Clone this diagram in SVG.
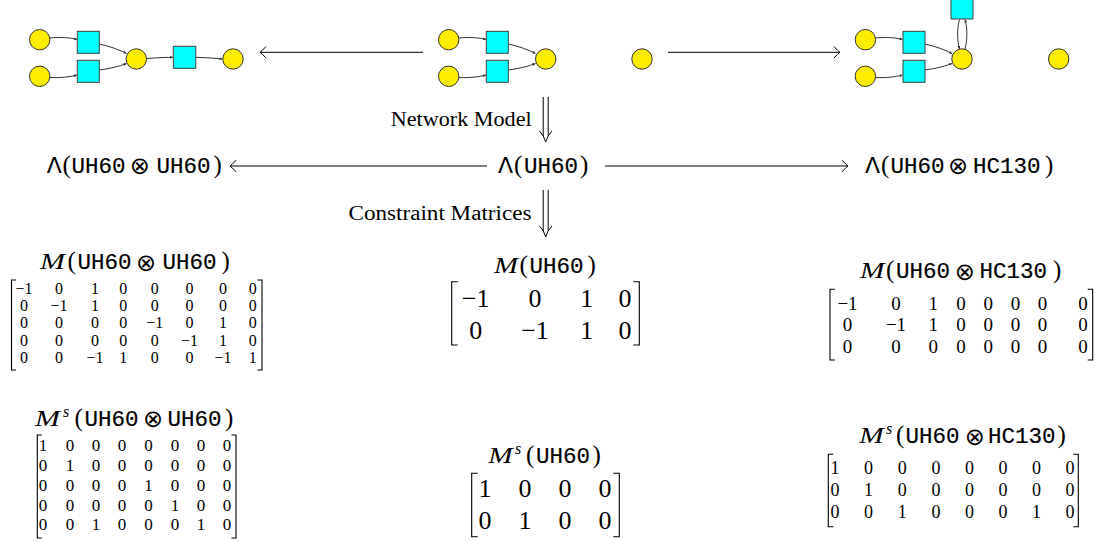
<svg xmlns="http://www.w3.org/2000/svg" width="1103" height="542" viewBox="0 0 1103 542">
<defs>
<style>
.c{fill:#FFED00;stroke:#333;stroke-width:1}
.sq{fill:#00FFFF;stroke:#404040;stroke-width:1}
.e{fill:none;stroke:#333;stroke-width:1;marker-end:url(#ah)}
.ar{fill:none;stroke:#000;stroke-width:1}
.rm{font-family:"Liberation Serif",serif;fill:#000}
.tt{font-family:"Liberation Mono",monospace;font-size:22.5px;fill:#000;stroke:#000;stroke-width:0.2}
.lam{font-family:"DejaVu Sans",sans-serif;font-size:22px}
.par{font-family:"Liberation Serif",serif;font-size:25px}
.ot{font-family:"DejaVu Sans",sans-serif;font-size:24px}
.mm{font-family:"Liberation Serif",serif;font-style:italic;font-size:24px}
.sup{font-family:"Liberation Serif",serif;font-style:italic;font-size:16px}
.br{fill:none;stroke:#000;stroke-width:1.1}
.m{font-family:"Liberation Serif",serif;text-anchor:middle;fill:#000}
</style>
<marker id="ah" viewBox="0 0 6 6" refX="6" refY="3" markerWidth="3" markerHeight="3" orient="auto" markerUnits="userSpaceOnUse">
<path d="M0,0 L6,3 L0,6 z" fill="#333"/>
</marker>
</defs>

<g id="connectors">
<line class="ar" x1="261" y1="52.3" x2="423" y2="52.3"/>
<path class="ar" d="M266,46.5 Q262,51 260,52.3 Q262,53.6 266,58"/>
<line class="ar" x1="668" y1="52.3" x2="839" y2="52.3"/>
<path class="ar" d="M834,46.5 Q838,51 840,52.3 Q838,53.6 834,58"/>
<line class="ar" x1="231" y1="166" x2="487" y2="166"/>
<path class="ar" d="M236,160.2 Q232,164.7 230,166 Q232,167.3 236,171.8"/>
<line class="ar" x1="605" y1="166" x2="847" y2="166"/>
<path class="ar" d="M842,160.2 Q846,164.7 848,166 Q846,167.3 842,171.8"/>
<line class="ar" x1="543.2" y1="97" x2="543.2" y2="136"/>
<line class="ar" x1="548.2" y1="97" x2="548.2" y2="136"/>
<path class="ar" d="M539.5,131 Q544,135.5 545.7,142 Q547.4,135.5 552,131"/>
<line class="ar" x1="543.2" y1="190" x2="543.2" y2="231"/>
<line class="ar" x1="548.2" y1="190" x2="548.2" y2="231"/>
<path class="ar" d="M539.5,226 Q544,230.5 545.7,237 Q547.4,230.5 552,226"/>
<text class="rm" x="390.7" y="125.5" font-size="20" textLength="141" lengthAdjust="spacingAndGlyphs">Network Model</text>
<text class="rm" x="348.5" y="219.5" font-size="20" textLength="183" lengthAdjust="spacingAndGlyphs">Constraint Matrices</text>
</g>

<g id="glycan-left">
<path class="e" d="M50,38 C60,37 70,37.5 77,39.5"/>
<path class="e" d="M50,77.5 C60,78 70,77 77,75"/>
<path class="e" d="M99.5,44 C110,46.5 119,49.5 126.5,53.5"/>
<path class="e" d="M99.5,70 C110,68.5 119,66.5 126.5,63.5"/>
<path class="e" d="M146.7,58.5 C155,57.8 165,57.4 173,57.3"/>
<path class="e" d="M196,57.3 C205,57.5 214,58 222.5,59"/>
<circle class="c" cx="39.7" cy="39.7" r="10.2"/>
<circle class="c" cx="39.7" cy="76.3" r="10.2"/>
<rect class="sq" x="77.3" y="31.3" width="22" height="22"/>
<rect class="sq" x="77.3" y="60.3" width="22" height="22"/>
<circle class="c" cx="136.3" cy="59" r="10.2"/>
<rect class="sq" x="173.3" y="46.3" width="22.5" height="22"/>
<circle class="c" cx="233" cy="59" r="10.2"/>
</g>

<g id="glycan-middle">
<path class="e" d="M459,38 C469,37 479,37.5 486,39.5"/>
<path class="e" d="M459,77.5 C469,78 479,77 486,75"/>
<path class="e" d="M508.5,44 C519,46.5 528,49.5 535.5,53.5"/>
<path class="e" d="M508.5,70 C519,68.5 528,66.5 535.5,63.5"/>
<circle class="c" cx="448.7" cy="39.7" r="10.2"/>
<circle class="c" cx="448.7" cy="76.3" r="10.2"/>
<rect class="sq" x="486.3" y="31.3" width="22" height="22"/>
<rect class="sq" x="486.3" y="60.3" width="22" height="22"/>
<circle class="c" cx="545.7" cy="59" r="10.2"/>
</g>

<g id="monosaccharide-middle">
<circle class="c" cx="642" cy="59" r="10.2"/>
</g>

<g id="glycan-right">
<path class="e" d="M875.5,38 C885.5,37 895.5,37.5 902.5,39.5"/>
<path class="e" d="M875.5,77.5 C885.5,78 895.5,77 902.5,75"/>
<path class="e" d="M925,44 C935.5,46.5 944.5,49.5 952,53.5"/>
<path class="e" d="M925,70 C935.5,68.5 944.5,66.5 952,63.5"/>
<path class="e" d="M959.5,19.5 C957,28 957,40 959.5,49"/>
<path class="e" d="M965,49 C967.5,40 967.5,28 965,19.5"/>
<circle class="c" cx="865.4" cy="39.7" r="10.2"/>
<circle class="c" cx="865.4" cy="76.3" r="10.2"/>
<rect class="sq" x="903" y="31.3" width="22" height="22"/>
<rect class="sq" x="903" y="60.3" width="22" height="22"/>
<rect class="sq" x="951" y="-3" width="22" height="22"/>
<circle class="c" cx="962" cy="59" r="10.2"/>
</g>

<g id="monosaccharide-right">
<circle class="c" cx="1058.7" cy="59" r="10.2"/>
</g>

<g id="lambda-left">
<text class="lam" x="46.7" y="173">Λ</text>
<text class="par" x="62.5" y="173">(</text>
<text class="tt" x="71.5" y="173">UH60</text>
<text class="ot" x="129.7" y="174.4">⊗</text>
<text class="tt" x="156.5" y="173">UH60</text>
<text class="par" x="213.5" y="173">)</text>
</g>

<g id="lambda-middle">
<text class="lam" x="498" y="173">Λ</text>
<text class="par" x="514" y="173">(</text>
<text class="tt" x="524" y="173">UH60</text>
<text class="par" x="580" y="173">)</text>
</g>

<g id="lambda-right">
<text class="lam" x="865" y="173">Λ</text>
<text class="par" x="881" y="173">(</text>
<text class="tt" x="890.5" y="173">UH60</text>
<text class="ot" x="948" y="174.4">⊗</text>
<text class="tt" x="973" y="173">HC130</text>
<text class="par" x="1045" y="173">)</text>
</g>

<g id="matrix-M-left">
<text class="mm" x="40" y="269.3" textLength="25" lengthAdjust="spacingAndGlyphs">M</text>
<text class="par" x="67.5" y="269.3">(</text>
<text class="tt" x="77.5" y="269.3">UH60</text>
<text class="ot" x="136" y="270.7">⊗</text>
<text class="tt" x="162.5" y="269.3">UH60</text>
<text class="par" x="221.5" y="269.3">)</text>
<path class="br" d="M16,280 H11.5 V370 H16"/>
<path class="br" d="M257.5,280 H262 V370 H257.5"/>
<g class="m" font-size="16">
<text y="293.7"><tspan x="24">−1</tspan><tspan x="59">0</tspan><tspan x="95">1</tspan><tspan x="123.3">0</tspan><tspan x="154.7">0</tspan><tspan x="189.5">0</tspan><tspan x="223">0</tspan><tspan x="252.7">0</tspan></text>
<text y="311"><tspan x="24">0</tspan><tspan x="59">−1</tspan><tspan x="95">1</tspan><tspan x="123.3">0</tspan><tspan x="154.7">0</tspan><tspan x="189.5">0</tspan><tspan x="223">0</tspan><tspan x="252.7">0</tspan></text>
<text y="328.4"><tspan x="24">0</tspan><tspan x="59">0</tspan><tspan x="95">0</tspan><tspan x="123.3">0</tspan><tspan x="154.7">−1</tspan><tspan x="189.5">0</tspan><tspan x="223">1</tspan><tspan x="252.7">0</tspan></text>
<text y="345.7"><tspan x="24">0</tspan><tspan x="59">0</tspan><tspan x="95">0</tspan><tspan x="123.3">0</tspan><tspan x="154.7">0</tspan><tspan x="189.5">−1</tspan><tspan x="223">1</tspan><tspan x="252.7">0</tspan></text>
<text y="363"><tspan x="24">0</tspan><tspan x="59">0</tspan><tspan x="95">−1</tspan><tspan x="123.3">1</tspan><tspan x="154.7">0</tspan><tspan x="189.5">0</tspan><tspan x="223">−1</tspan><tspan x="252.7">1</tspan></text>
</g>
</g>

<g id="matrix-Ms-left">
<text class="mm" x="35" y="425.7" textLength="25" lengthAdjust="spacingAndGlyphs">M</text>
<text class="sup" x="63" y="416.7">s</text>
<text class="par" x="74.5" y="425.7">(</text>
<text class="tt" x="84.5" y="425.7">UH60</text>
<text class="ot" x="143" y="427.1">⊗</text>
<text class="tt" x="167.5" y="425.7">UH60</text>
<text class="par" x="225" y="425.7">)</text>
<path class="br" d="M41.8,435 H37.3 V538 H41.8"/>
<path class="br" d="M231.5,435 H236 V538 H231.5"/>
<g class="m" font-size="17">
<text y="451.2"><tspan x="43">1</tspan><tspan x="70">0</tspan><tspan x="96">0</tspan><tspan x="122">0</tspan><tspan x="148.5">0</tspan><tspan x="175">0</tspan><tspan x="201">0</tspan><tspan x="227">0</tspan></text>
<text y="471"><tspan x="43">0</tspan><tspan x="70">1</tspan><tspan x="96">0</tspan><tspan x="122">0</tspan><tspan x="148.5">0</tspan><tspan x="175">0</tspan><tspan x="201">0</tspan><tspan x="227">0</tspan></text>
<text y="490.8"><tspan x="43">0</tspan><tspan x="70">0</tspan><tspan x="96">0</tspan><tspan x="122">0</tspan><tspan x="148.5">1</tspan><tspan x="175">0</tspan><tspan x="201">0</tspan><tspan x="227">0</tspan></text>
<text y="510.6"><tspan x="43">0</tspan><tspan x="70">0</tspan><tspan x="96">0</tspan><tspan x="122">0</tspan><tspan x="148.5">0</tspan><tspan x="175">1</tspan><tspan x="201">0</tspan><tspan x="227">0</tspan></text>
<text y="530.4"><tspan x="43">0</tspan><tspan x="70">0</tspan><tspan x="96">1</tspan><tspan x="122">0</tspan><tspan x="148.5">0</tspan><tspan x="175">0</tspan><tspan x="201">1</tspan><tspan x="227">0</tspan></text>
</g>
</g>

<g id="matrix-M-middle">
<text class="mm" x="494" y="273.3" textLength="24" lengthAdjust="spacingAndGlyphs">M</text>
<text class="par" x="519.5" y="273.3">(</text>
<text class="tt" x="529.5" y="273.3">UH60</text>
<text class="par" x="587.5" y="273.3">)</text>
<path class="br" d="M457.7,281.7 H451.7 V345 H457.7"/>
<path class="br" d="M633.3,281.7 H639.3 V345 H633.3"/>
<g class="m" font-size="26">
<text y="307.1"><tspan x="475.7">−1</tspan><tspan x="535">0</tspan><tspan x="586.7">1</tspan><tspan x="625">0</tspan></text>
<text y="338.8"><tspan x="475.7">0</tspan><tspan x="535">−1</tspan><tspan x="586.7">1</tspan><tspan x="625">0</tspan></text>
</g>
</g>

<g id="matrix-Ms-middle">
<text class="mm" x="488.3" y="463.3" textLength="24.5" lengthAdjust="spacingAndGlyphs">M</text>
<text class="sup" x="515" y="454.3">s</text>
<text class="par" x="526" y="463.3">(</text>
<text class="tt" x="536" y="463.3">UH60</text>
<text class="par" x="592.5" y="463.3">)</text>
<path class="br" d="M477.7,473.3 H471.7 V536.7 H477.7"/>
<path class="br" d="M613.3,473.3 H619.3 V536.7 H613.3"/>
<g class="m" font-size="26">
<text y="497.1"><tspan x="485">1</tspan><tspan x="525">0</tspan><tspan x="565">0</tspan><tspan x="605">0</tspan></text>
<text y="528.8"><tspan x="485">0</tspan><tspan x="525">1</tspan><tspan x="565">0</tspan><tspan x="605">0</tspan></text>
</g>
</g>

<g id="matrix-M-right">
<text class="mm" x="860" y="278.3" textLength="24.5" lengthAdjust="spacingAndGlyphs">M</text>
<text class="par" x="886" y="278.3">(</text>
<text class="tt" x="896" y="278.3">UH60</text>
<text class="ot" x="954.7" y="279.7">⊗</text>
<text class="tt" x="979.5" y="278.3">HC130</text>
<text class="par" x="1053" y="278.3">)</text>
<path class="br" d="M835,289.3 H830 V360 H835"/>
<path class="br" d="M1087.7,289.3 H1092.7 V360 H1087.7"/>
<g class="m" font-size="19">
<text y="309.7"><tspan x="847.5">−1</tspan><tspan x="896">0</tspan><tspan x="933.3">1</tspan><tspan x="961">0</tspan><tspan x="988.3">0</tspan><tspan x="1015.5">0</tspan><tspan x="1042.5">0</tspan><tspan x="1083">0</tspan></text>
<text y="331.4"><tspan x="847.5">0</tspan><tspan x="896">−1</tspan><tspan x="933.3">1</tspan><tspan x="961">0</tspan><tspan x="988.3">0</tspan><tspan x="1015.5">0</tspan><tspan x="1042.5">0</tspan><tspan x="1083">0</tspan></text>
<text y="353.1"><tspan x="847.5">0</tspan><tspan x="896">0</tspan><tspan x="933.3">0</tspan><tspan x="961">0</tspan><tspan x="988.3">0</tspan><tspan x="1015.5">0</tspan><tspan x="1042.5">0</tspan><tspan x="1083">0</tspan></text>
</g>
</g>

<g id="matrix-Ms-right">
<text class="mm" x="859.3" y="443.3" textLength="24.5" lengthAdjust="spacingAndGlyphs">M</text>
<text class="sup" x="886" y="434.3">s</text>
<text class="par" x="896" y="443.3">(</text>
<text class="tt" x="905.5" y="443.3">UH60</text>
<text class="ot" x="964.7" y="444.7">⊗</text>
<text class="tt" x="988" y="443.3">HC130</text>
<text class="par" x="1057.5" y="443.3">)</text>
<path class="br" d="M833.3,454.3 H828.3 V526.7 H833.3"/>
<path class="br" d="M1073.3,454.3 H1078.3 V526.7 H1073.3"/>
<g class="m" font-size="18">
<text y="474.4"><tspan x="835">1</tspan><tspan x="868.6">0</tspan><tspan x="902.3">0</tspan><tspan x="935.9">0</tspan><tspan x="969.4">0</tspan><tspan x="1003">0</tspan><tspan x="1036.6">0</tspan><tspan x="1070">0</tspan></text>
<text y="496.1"><tspan x="835">0</tspan><tspan x="868.6">1</tspan><tspan x="902.3">0</tspan><tspan x="935.9">0</tspan><tspan x="969.4">0</tspan><tspan x="1003">0</tspan><tspan x="1036.6">0</tspan><tspan x="1070">0</tspan></text>
<text y="517.8"><tspan x="835">0</tspan><tspan x="868.6">0</tspan><tspan x="902.3">1</tspan><tspan x="935.9">0</tspan><tspan x="969.4">0</tspan><tspan x="1003">0</tspan><tspan x="1036.6">1</tspan><tspan x="1070">0</tspan></text>
</g>
</g>
</svg>
